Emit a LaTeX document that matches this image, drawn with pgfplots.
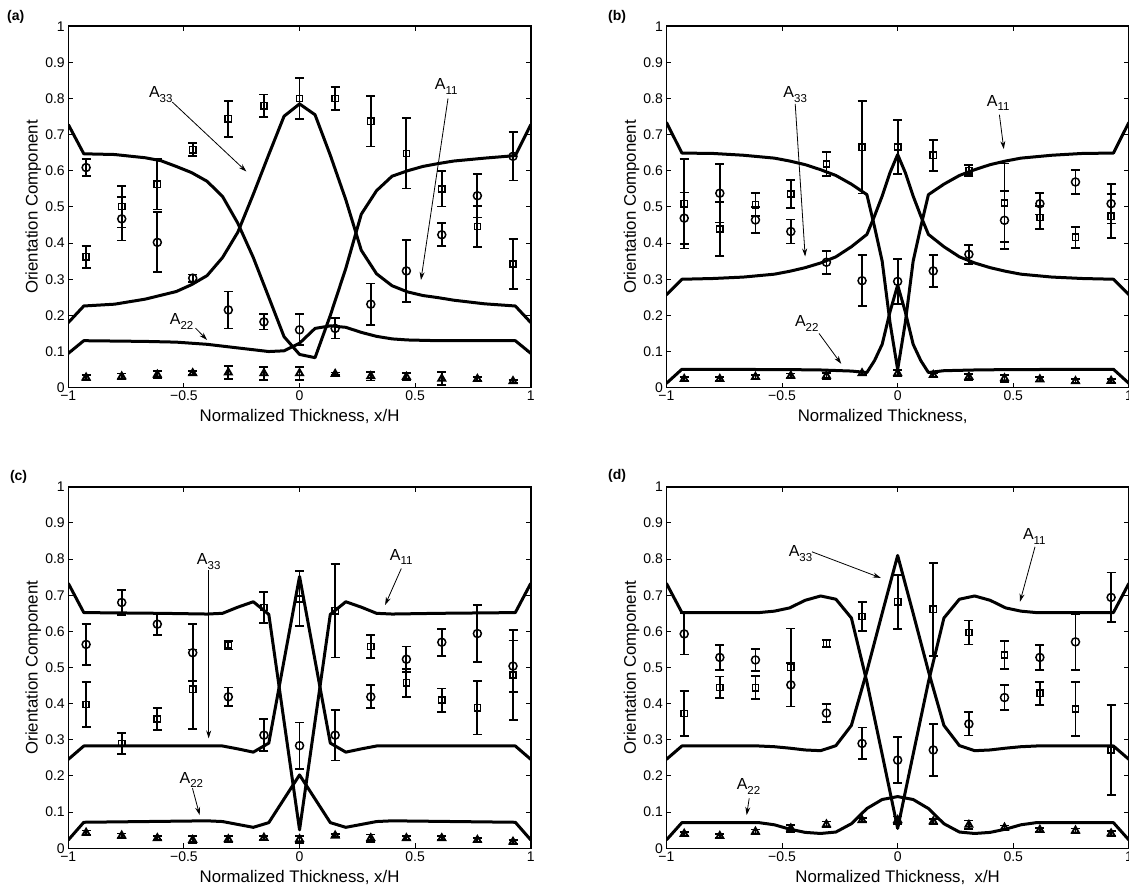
\documentclass[border=0pt]{standalone}
\usepackage{pgfplots}
\pgfplotsset{compat=1.18}
\usepackage{pgfplotstable}
\usepackage{fontspec}
\setmainfont{Liberation Sans}
\usetikzlibrary{arrows.meta}

\pgfplotstableread{
x sq sqe ci cie tr tre
-0.923 0.362 0.031 0.609 0.024 0.028 0.008
-0.769 0.501 0.058 0.467 0.060 0.031 0.008
-0.615 0.563 0.070 0.402 0.083 0.036 0.010
-0.462 0.658 0.018 0.303 0.010 0.040 0.006
-0.308 0.744 0.050 0.215 0.051 0.042 0.018
-0.154 0.780 0.031 0.182 0.021 0.040 0.018
0.000 0.800 0.057 0.160 0.043 0.040 0.018
0.154 0.800 0.032 0.164 0.028 0.038 0.004
0.308 0.737 0.070 0.231 0.057 0.032 0.012
0.462 0.648 0.097 0.323 0.085 0.030 0.010
0.615 0.550 0.049 0.423 0.032 0.025 0.018
0.769 0.446 0.056 0.531 0.060 0.024 0.005
0.923 0.342 0.070 0.640 0.067 0.018 0.004
}\tabA
\pgfplotstableread{
x sq sqe ci cie tr tre
-0.923 0.509 0.124 0.469 0.071 0.024 0.006
-0.769 0.439 0.074 0.538 0.081 0.024 0.006
-0.615 0.506 0.032 0.464 0.035 0.030 0.006
-0.462 0.536 0.038 0.432 0.033 0.033 0.006
-0.308 0.619 0.033 0.347 0.032 0.033 0.008
-0.154 0.665 0.128 0.296 0.070 0.040 0.004
0.000 0.666 0.075 0.294 0.063 0.040 0.008
0.154 0.643 0.043 0.323 0.045 0.035 0.004
0.308 0.600 0.015 0.369 0.026 0.030 0.008
0.462 0.511 0.109 0.463 0.080 0.026 0.010
0.615 0.471 0.032 0.509 0.030 0.023 0.006
0.769 0.416 0.029 0.569 0.034 0.018 0.006
0.923 0.474 0.061 0.509 0.055 0.019 0.006
}\tabB
\pgfplotstableread{
x sq sqe ci cie tr tre
-0.923 0.398 0.062 0.564 0.057 0.043 0.006
-0.769 0.290 0.030 0.680 0.034 0.035 0.006
-0.615 0.358 0.030 0.620 0.029 0.028 0.006
-0.462 0.440 0.110 0.541 0.079 0.023 0.010
-0.308 0.562 0.012 0.419 0.026 0.025 0.008
-0.154 0.666 0.042 0.313 0.044 0.029 0.006
0.000 0.690 0.076 0.284 0.064 0.025 0.010
0.154 0.657 0.129 0.313 0.070 0.035 0.004
0.308 0.558 0.032 0.419 0.032 0.028 0.010
0.462 0.458 0.039 0.523 0.035 0.028 0.006
0.615 0.410 0.032 0.570 0.037 0.028 0.006
0.769 0.389 0.074 0.594 0.079 0.023 0.006
0.923 0.479 0.125 0.504 0.071 0.018 0.006
}\tabC
\pgfplotstableread{
x sq sqe ci cie tr tre
-0.923 0.373 0.062 0.593 0.057 0.040 0.006
-0.769 0.445 0.030 0.528 0.034 0.034 0.006
-0.615 0.444 0.032 0.521 0.030 0.046 0.006
-0.462 0.500 0.108 0.452 0.060 0.055 0.010
-0.308 0.566 0.010 0.374 0.025 0.066 0.008
-0.154 0.641 0.041 0.290 0.044 0.078 0.006
0.000 0.682 0.075 0.244 0.063 0.078 0.010
0.154 0.661 0.128 0.272 0.071 0.074 0.006
0.308 0.597 0.033 0.344 0.032 0.065 0.012
0.462 0.535 0.038 0.417 0.034 0.057 0.006
0.615 0.429 0.032 0.528 0.035 0.051 0.006
0.769 0.385 0.074 0.571 0.078 0.049 0.006
0.923 0.272 0.124 0.694 0.069 0.041 0.006
}\tabD

\newcommand{\fs}{\fontsize{16.8}{20}\selectfont}
\newcommand{\fa}{\fontsize{16}{19}\selectfont}
\newcommand{\ft}{\fontsize{14}{17}\selectfont}
\newcommand{\Asub}[1]{A\raisebox{-0.55ex}{\fontsize{11.5}{12}\selectfont #1}}

\tikzset{arr/.style={-{Stealth[length=8pt,width=5pt]}, line width=0.8pt, black}}

\pgfplotsset{
  panel/.style={
    scale only axis, width=462.5pt, height=361.5pt,
    xmin=-1, xmax=1, ymin=0, ymax=1,
    xtick={-1,-0.5,0,0.5,1}, xticklabels={−1,−0.5,0,0.5,1},
    ytick={0,0.1,0.2,0.3,0.4,0.5,0.6,0.7,0.8,0.9,1},
    yticklabels={0,0.1,0.2,0.3,0.4,0.5,0.6,0.7,0.8,0.9,1},
    tick align=inside, major tick length=5pt,
    axis line style={line width=1.5pt},
    every tick/.style={black, line width=1pt},
    tick label style={font=\ft},
    label style={font=\fs},
    ylabel={Orientation Component},
    ylabel style={at={(axis description cs:0,0.5)}, anchor=center, yshift=35pt},
    xlabel style={at={(axis description cs:0.5,0)}, anchor=center, yshift=-29pt},
  },
  sim/.style={black, line width=3pt, no marks, line join=round},
  exp/.style={black, only marks, mark options={line width=1.5pt, solid},
    error bars/y dir=both, error bars/y explicit,
    error bars/error mark=-,
    error bars/error bar style={line width=1.8pt},
    error bars/error mark options={rotate=90, line width=1.8pt, mark size=4.5pt}},
  sqm/.style={exp, mark=square, mark size=3.1pt},
  cim/.style={exp, mark=o, mark size=4pt},
  trm/.style={exp, mark=triangle, mark size=4pt, mark options={line width=1.9pt, solid}},
}

\begin{document}
\begin{tikzpicture}
\path[use as bounding box] (0,0) rectangle (1129pt,890pt);

\node[anchor=west, font=\bfseries\fontsize{14}{16}\selectfont] at (3.6pt,873.3pt) {(a)};
\node[anchor=west, font=\bfseries\fontsize{14}{16}\selectfont] at (604.6pt,873.3pt) {(b)};
\node[anchor=west, font=\bfseries\fontsize{14}{16}\selectfont] at (6.5pt,413.3pt) {(c)};
\node[anchor=west, font=\bfseries\fontsize{14}{16}\selectfont] at (604.6pt,414.3pt) {(d)};

% (a)
\begin{axis}[panel, at={(68.3pt,502.3pt)}, anchor=south west,
  xlabel={Normalized Thickness, x/H}]
\addplot[sim] coordinates {(-1,0.728) (-0.933,0.647) (-0.8,0.645) (-0.667,0.636) (-0.6,0.628) (-0.533,0.612) (-0.467,0.595) (-0.4,0.571) (-0.333,0.529) (-0.267,0.455) (-0.2,0.36) (-0.133,0.25) (-0.067,0.141) (0,0.092) (0.067,0.083) (0.133,0.20) (0.2,0.33) (0.267,0.48) (0.333,0.545) (0.4,0.585) (0.467,0.60) (0.533,0.612) (0.6,0.62) (0.667,0.627) (0.8,0.635) (0.933,0.642) (1,0.728)};
\addplot[sim] coordinates {(-1,0.18) (-0.933,0.226) (-0.8,0.231) (-0.667,0.245) (-0.533,0.266) (-0.467,0.285) (-0.4,0.31) (-0.333,0.36) (-0.267,0.43) (-0.2,0.535) (-0.133,0.645) (-0.067,0.751) (0,0.785) (0.067,0.755) (0.133,0.643) (0.2,0.52) (0.267,0.38) (0.333,0.315) (0.4,0.282) (0.467,0.265) (0.533,0.255) (0.6,0.249) (0.667,0.242) (0.8,0.232) (0.933,0.226) (1,0.18)};
\addplot[sim] coordinates {(-1,0.095) (-0.933,0.13) (-0.667,0.128) (-0.533,0.126) (-0.4,0.12) (-0.267,0.11) (-0.2,0.105) (-0.133,0.10) (-0.067,0.102) (0,0.123) (0.067,0.164) (0.133,0.171) (0.2,0.167) (0.267,0.153) (0.333,0.142) (0.4,0.135) (0.467,0.132) (0.6,0.13) (0.933,0.13) (1,0.095)};
\addplot[sqm] table[x=x,y=sq,y error=sqe] {\tabA};
\addplot[cim] table[x=x,y=ci,y error=cie] {\tabA};
\addplot[trm] table[x=x,y=tr,y error=tre] {\tabA};
\node[font=\fa] at (axis cs:-0.60,0.81) {\Asub{33}};
\draw[arr] (axis cs:-0.55,0.79) -- (axis cs:-0.23,0.598);
\node[font=\fa] at (axis cs:0.634,0.834) {\Asub{11}};
\draw[arr] (axis cs:0.642,0.80) -- (axis cs:0.525,0.298);
\node[font=\fa] at (axis cs:-0.51,0.183) {\Asub{22}};
\draw[arr] (axis cs:-0.45,0.165) -- (axis cs:-0.40,0.132);
\end{axis}

% (b)
\begin{axis}[panel, at={(666.4pt,502.3pt)}, anchor=south west,
  xlabel={Normalized Thickness,\phantom{ x/H}}]
\addplot[sim] coordinates {(-1,0.734) (-0.933,0.649) (-0.8,0.648) (-0.667,0.643) (-0.533,0.635) (-0.467,0.627) (-0.4,0.617) (-0.333,0.603) (-0.267,0.587) (-0.2,0.563) (-0.133,0.534) (-0.1,0.445) (-0.067,0.35) (-0.033,0.18) (0,0.05) (0.033,0.18) (0.067,0.35) (0.1,0.445) (0.133,0.534) (0.2,0.563) (0.267,0.587) (0.333,0.603) (0.4,0.617) (0.467,0.627) (0.533,0.635) (0.667,0.643) (0.8,0.648) (0.933,0.649) (1,0.734)};
\addplot[sim] coordinates {(-1,0.257) (-0.933,0.300) (-0.8,0.302) (-0.667,0.306) (-0.533,0.314) (-0.467,0.322) (-0.4,0.332) (-0.333,0.345) (-0.267,0.362) (-0.2,0.39) (-0.133,0.424) (-0.1,0.475) (-0.067,0.53) (-0.033,0.595) (0,0.645) (0.033,0.595) (0.067,0.53) (0.1,0.475) (0.133,0.424) (0.2,0.39) (0.267,0.362) (0.333,0.345) (0.4,0.332) (0.467,0.322) (0.533,0.314) (0.667,0.306) (0.8,0.302) (0.933,0.300) (1,0.257)};
\addplot[sim] coordinates {(-1,0.012) (-0.933,0.051) (-0.467,0.050) (-0.333,0.049) (-0.2,0.046) (-0.133,0.042) (-0.1,0.075) (-0.067,0.12) (-0.033,0.21) (0,0.284) (0.033,0.21) (0.067,0.12) (0.1,0.075) (0.133,0.042) (0.2,0.047) (0.333,0.049) (0.467,0.050) (0.933,0.051) (1,0.012)};
\addplot[sqm] table[x=x,y=sq,y error=sqe] {\tabB};
\addplot[cim] table[x=x,y=ci,y error=cie] {\tabB};
\addplot[trm] table[x=x,y=tr,y error=tre] {\tabB};
\node[font=\fa] at (axis cs:-0.443,0.81) {\Asub{33}};
\draw[arr] (axis cs:-0.443,0.785) -- (axis cs:-0.40,0.363);
\node[font=\fa] at (axis cs:0.435,0.788) {\Asub{11}};
\draw[arr] (axis cs:0.44,0.755) -- (axis cs:0.459,0.66);
\node[font=\fa] at (axis cs:-0.393,0.178) {\Asub{22}};
\draw[arr] (axis cs:-0.34,0.15) -- (axis cs:-0.244,0.066);
\end{axis}

% (c)
\begin{axis}[panel, at={(68.3pt,41.7pt)}, anchor=south west,
  xlabel={Normalized Thickness, x/H}]
\addplot[sim] coordinates {(-1,0.733) (-0.933,0.652) (-0.6,0.650) (-0.4,0.648) (-0.333,0.650) (-0.267,0.667) (-0.2,0.682) (-0.133,0.647) (0,0.051) (0.133,0.647) (0.2,0.682) (0.267,0.667) (0.333,0.650) (0.4,0.648) (0.6,0.650) (0.933,0.652) (1,0.733)};
\addplot[sim] coordinates {(-1,0.246) (-0.933,0.283) (-0.333,0.283) (-0.267,0.275) (-0.2,0.266) (-0.133,0.291) (0,0.752) (0.133,0.291) (0.2,0.266) (0.267,0.275) (0.333,0.283) (0.933,0.283) (1,0.246)};
\addplot[sim] coordinates {(-1,0.023) (-0.933,0.072) (-0.4,0.076) (-0.333,0.074) (-0.267,0.066) (-0.2,0.058) (-0.133,0.071) (0,0.203) (0.133,0.071) (0.2,0.058) (0.267,0.066) (0.333,0.074) (0.4,0.076) (0.933,0.072) (1,0.023)};
\addplot[sqm] table[x=x,y=sq,y error=sqe] {\tabC};
\addplot[cim] table[x=x,y=ci,y error=cie] {\tabC};
\addplot[trm] table[x=x,y=tr,y error=tre] {\tabC};
\node[font=\fa] at (axis cs:-0.393,0.793) {\Asub{33}};
\draw[arr] (axis cs:-0.393,0.77) -- (axis cs:-0.393,0.304);
\node[font=\fa] at (axis cs:0.44,0.806) {\Asub{11}};
\draw[arr] (axis cs:0.44,0.774) -- (axis cs:0.37,0.673);
\node[font=\fa] at (axis cs:-0.468,0.189) {\Asub{22}};
\draw[arr] (axis cs:-0.463,0.166) -- (axis cs:-0.432,0.092);
\end{axis}

% (d)
\begin{axis}[panel, at={(666.4pt,41.7pt)}, anchor=south west,
  xlabel={Normalized Thickness,\ \ x/H}]
\addplot[sim] coordinates {(-1,0.733) (-0.933,0.652) (-0.6,0.652) (-0.533,0.656) (-0.467,0.665) (-0.4,0.686) (-0.333,0.698) (-0.267,0.689) (-0.2,0.637) (-0.133,0.46) (-0.067,0.26) (0,0.055) (0.067,0.26) (0.133,0.46) (0.2,0.637) (0.267,0.689) (0.333,0.698) (0.4,0.686) (0.467,0.665) (0.533,0.656) (0.6,0.652) (0.933,0.652) (1,0.733)};
\addplot[sim] coordinates {(-1,0.246) (-0.933,0.283) (-0.6,0.283) (-0.533,0.281) (-0.467,0.277) (-0.4,0.272) (-0.333,0.270) (-0.267,0.284) (-0.2,0.340) (-0.133,0.49) (-0.067,0.65) (0,0.81) (0.067,0.65) (0.133,0.49) (0.2,0.340) (0.267,0.284) (0.333,0.270) (0.4,0.272) (0.467,0.277) (0.533,0.281) (0.6,0.283) (0.933,0.283) (1,0.246)};
\addplot[sim] coordinates {(-1,0.023) (-0.933,0.071) (-0.6,0.071) (-0.533,0.065) (-0.467,0.053) (-0.4,0.044) (-0.333,0.041) (-0.267,0.045) (-0.2,0.068) (-0.133,0.11) (-0.067,0.135) (0,0.143) (0.067,0.135) (0.133,0.11) (0.2,0.068) (0.267,0.045) (0.333,0.041) (0.4,0.044) (0.467,0.053) (0.533,0.065) (0.6,0.071) (0.933,0.071) (1,0.023)};
\addplot[sqm] table[x=x,y=sq,y error=sqe] {\tabD};
\addplot[cim] table[x=x,y=ci,y error=cie] {\tabD};
\addplot[trm] table[x=x,y=tr,y error=tre] {\tabD};
\node[font=\fa] at (axis cs:-0.42,0.816) {\Asub{33}};
\draw[arr] (axis cs:-0.37,0.82) -- (axis cs:-0.073,0.748);
\node[font=\fa] at (axis cs:0.591,0.862) {\Asub{11}};
\draw[arr] (axis cs:0.594,0.834) -- (axis cs:0.529,0.682);
\node[font=\fa] at (axis cs:-0.645,0.171) {\Asub{22}};
\draw[arr] (axis cs:-0.642,0.138) -- (axis cs:-0.653,0.092);
\end{axis}
\end{tikzpicture}
\end{document}
